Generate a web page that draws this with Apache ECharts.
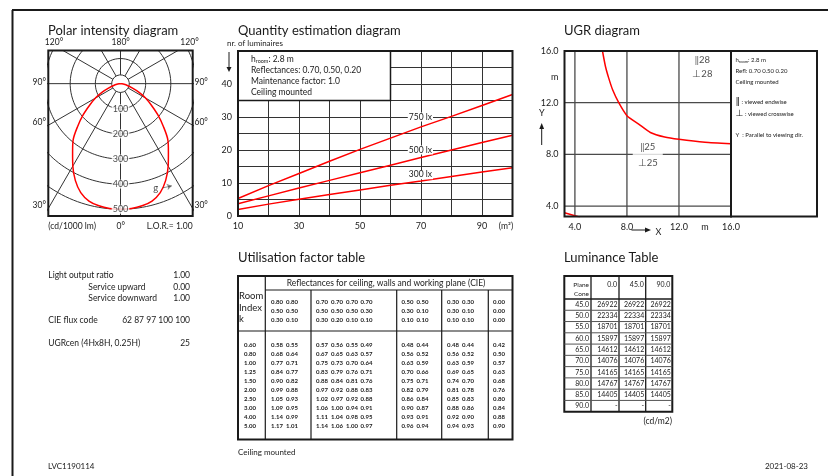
<!DOCTYPE html>
<html>
<head>
<meta charset="utf-8">
<script src="https://cdn.jsdelivr.net/npm/echarts@6/dist/echarts.min.js"></script>
<style>
html, body { margin: 0; padding: 0; background: #fff; }
#chart { width: 835px; height: 476px; }
</style>
</head>
<body>
<div id="chart"></div>
<script>
// ---- polar intensity diagram (cd/1000 lm), gamma 0 = straight down, symmetric
var polarAngles = [0, 5, 10, 15, 20, 25, 30, 35, 40, 45, 50, 55, 60, 65, 70, 75, 80, 85, 90];
var polarIntensity = [500, 499, 494, 484, 462, 425, 379, 332, 293, 241, 194, 150, 116, 80, 47, 28, 15, 6, 0];
var polarRings = [35, 100, 200, 300, 400, 500];
var polarRingLabels = [100, 200, 300, 400, 500];
var polarRays = [0, 30, 60, 90, 120, 150, 180, 210, 240, 270, 300, 330];

// ---- quantity estimation diagram
var areas = [10, 20, 30, 40, 50, 60, 70, 80, 90, 100];
var lux750 = [5.3, 9.2, 12.9, 16.6, 20.2, 23.6, 27.0, 30.2, 33.5, 36.8];
var lux500 = [3.7, 6.1, 8.5, 10.8, 13.1, 15.4, 17.7, 20.0, 22.3, 24.5];
var lux300 = [2.0, 3.6, 5.1, 6.5, 7.9, 9.3, 10.6, 12.0, 13.3, 14.6];

// ---- UGR diagram
var ugrX = [6.12, 6.35, 6.6, 6.9, 7.37, 8.0, 8.9, 9.8, 10.9, 12.0, 14.0, 16.0];
var ugrY = [16.0, 14.8, 13.9, 13.0, 12.0, 11.0, 10.35, 9.7, 9.35, 9.17, 8.94, 8.82];
var ugrLowX = [3.2, 4.4];
var ugrLowY = [3.49, 3.14];
var ugrTicks = [4, 8, 12];

// ---- utilisation factor table
var reflCeiling = ['0.80', '0.80', '0.70', '0.70', '0.70', '0.70', '0.50', '0.50', '0.30', '0.30', '0.00'];
var reflWalls   = ['0.50', '0.50', '0.50', '0.50', '0.50', '0.30', '0.30', '0.10', '0.30', '0.10', '0.00'];
var reflPlane   = ['0.30', '0.10', '0.30', '0.20', '0.10', '0.10', '0.10', '0.10', '0.10', '0.10', '0.00'];
var roomIndex = ['0.60', '0.80', '1.00', '1.25', '1.50', '2.00', '2.50', '3.00', '4.00', '5.00'];
var ufRows = [
  ['0.58', '0.55', '0.57', '0.56', '0.55', '0.49', '0.48', '0.44', '0.48', '0.44', '0.42'],
  ['0.68', '0.64', '0.67', '0.65', '0.63', '0.57', '0.56', '0.52', '0.56', '0.52', '0.50'],
  ['0.77', '0.71', '0.75', '0.73', '0.70', '0.64', '0.63', '0.59', '0.63', '0.59', '0.57'],
  ['0.84', '0.77', '0.83', '0.79', '0.76', '0.71', '0.70', '0.66', '0.69', '0.65', '0.63'],
  ['0.90', '0.82', '0.88', '0.84', '0.81', '0.76', '0.75', '0.71', '0.74', '0.70', '0.68'],
  ['0.99', '0.88', '0.97', '0.92', '0.88', '0.83', '0.82', '0.79', '0.81', '0.78', '0.76'],
  ['1.05', '0.93', '1.02', '0.97', '0.92', '0.88', '0.86', '0.84', '0.85', '0.83', '0.80'],
  ['1.09', '0.95', '1.06', '1.00', '0.94', '0.91', '0.90', '0.87', '0.88', '0.86', '0.84'],
  ['1.14', '0.99', '1.11', '1.04', '0.98', '0.95', '0.93', '0.91', '0.92', '0.90', '0.88'],
  ['1.17', '1.01', '1.14', '1.06', '1.00', '0.97', '0.96', '0.94', '0.94', '0.93', '0.90']
];

// ---- luminance table (cd/m2)
var lumPlanes = ['0.0', '45.0', '90.0'];
var lumCones = ['45.0', '50.0', '55.0', '60.0', '65.0', '70.0', '75.0', '80.0', '85.0', '90.0'];
var lumValues = ['26922', '22334', '18701', '15897', '14612', '14076', '14165', '14767', '14405', '-'];

var ink = '#1a1a1a';
var red = '#ff0000';
var font = 'Lato';

function T(x, y, s, size, align, more) {
  var st = { text: s, fill: ink, fontSize: size, fontFamily: font, align: align || 'left', verticalAlign: 'middle' };
  if (more) for (var k in more) st[k] = more[k];
  return { type: 'text', x: x, y: y, z: 100, silent: true, style: st };
}
function L(x1, y1, x2, y2, w, c) {
  return { type: 'line', z: 90, silent: true, shape: { x1: x1, y1: y1, x2: x2, y2: y2 }, style: { stroke: c || ink, lineWidth: w || 1 } };
}
function R(x, y, w, h, lw) {
  return { type: 'rect', z: 90, silent: true, shape: { x: x, y: y, width: w, height: h }, style: { fill: 'none', stroke: ink, lineWidth: lw || 1 } };
}
function P(pts) {
  return { type: 'polygon', z: 90, silent: true, shape: { points: pts }, style: { fill: ink } };
}

function polarPt(r, deg) {
  var a = deg * Math.PI / 180;
  return [r * Math.sin(a), -r * Math.cos(a)];
}

var g = [];
// page frame
g.push(L(12, 10, 828, 10, 2));
g.push(L(12.5, 10, 12.5, 476, 2));

// titles
g.push(T(48, 31, 'Polar intensity diagram', 13));
g.push(T(238, 31, 'Quantity estimation diagram', 13));
g.push(T(564, 31, 'UGR diagram', 13));
g.push(T(238, 258, 'Utilisation factor table', 13));
g.push(T(564, 258, 'Luminance Table', 13));

// polar labels
g.push(T(54, 42.5, '120°', 8.5, 'center'));
g.push(T(120.7, 42.5, '180°', 8.5, 'center'));
g.push(T(189.5, 42.5, '120°', 8.5, 'center'));
[['90°', 82.7], ['60°', 122.7], ['30°', 205]].forEach(function (p) {
  g.push(T(46, p[1], p[0], 8.5, 'right'));
  g.push(T(194.5, p[1], p[0], 8.5, 'left'));
});
g.push(T(48.3, 226, '(cd/1000 lm)', 8.5));
g.push(T(120.7, 226, '0°', 8.5, 'center'));
g.push(T(192.7, 226, 'L.O.R.= 1.00', 8.5, 'right'));

// quantity annotations
g.push(T(227, 43, 'nr. of luminaires', 8));
g.push(L(229, 52, 229, 68, 1));
g.push(P([[226.5, 67], [231.5, 67], [229, 72]]));
g.push(T(506, 226, '(m²)', 8.5, 'center'));
g.push(T(251, 59, 'h{s|room}: 2.8 m', 8.5, 'left', { rich: { s: { fontSize: 5.5, fontFamily: font, fill: ink, padding: [4, 0, 0, 0] } } }));
g.push(T(251, 70.5, 'Reflectances: 0.70, 0.50, 0.20', 8.5));
g.push(T(251, 81.5, 'Maintenance factor: 1.0', 8.5));
g.push(T(251, 92.7, 'Ceiling mounted', 8.5));

// UGR annotations
g.push(R(731, 51, 86, 165.5, 2));
g.push(T(735.5, 60, 'h{s|room}: 2.8 m', 6, 'left', { rich: { s: { fontSize: 4, fontFamily: font, fill: ink, padding: [3, 0, 0, 0] } } }));
g.push(T(735.5, 71, 'Refl: 0.70 0.50 0.20', 6));
g.push(T(735.5, 82, 'Ceiling mounted', 6));
g.push(T(735.5, 102, '{b|‖} : viewed endwise', 6, 'left', { rich: { b: { fontSize: 9, fontFamily: 'DejaVu Sans', fill: ink } } }));
g.push(T(735.5, 114, '{b|⊥} : viewed crosswise', 6, 'left', { rich: { b: { fontSize: 9, fontFamily: 'DejaVu Sans', fill: ink } } }));
g.push(T(735.5, 135, 'Y  : Parallel to viewing dir.', 6));
g.push(T(541.7, 113, 'Y', 9, 'center'));
g.push(L(541.7, 145, 541.7, 128, 1));
g.push(P([[539.3, 129], [544.1, 129], [541.7, 123]]));
g.push(L(631.5, 230, 646, 230, 1));
g.push(P([[645, 227.6], [645, 232.4], [651, 230]]));
g.push(T(658.5, 232, 'X', 9, 'center'));

// left info block
g.push(T(48.3, 275.7, 'Light output ratio', 8.5));
g.push(T(190, 275.7, '1.00', 8.5, 'right'));
g.push(T(88.3, 287.3, 'Service upward', 8.5));
g.push(T(190, 287.3, '0.00', 8.5, 'right'));
g.push(T(88.3, 298.5, 'Service downward', 8.5));
g.push(T(190, 298.5, '1.00', 8.5, 'right'));
g.push(T(48.3, 320.7, 'CIE flux code', 8.5));
g.push(T(190, 320.7, '62 87 97 100 100', 8.5, 'right'));
g.push(T(48.3, 343.3, 'UGRcen (4Hx8H, 0.25H)', 8.5));
g.push(T(190, 343.3, '25', 8.5, 'right'));

// utilisation factor table
var ufLeft = 238, ufRight = 512.5, ufTop = 276, ufBottom = 439.5;
var ufColX = [277, 292, 322, 337, 352, 366.5, 407.5, 422.5, 453, 468, 499];
var ufGroupX = [311, 396.7, 441.7, 488.3];
var num = { fontWeight: 'bold', fill: '#222' };
g.push(R(ufLeft, ufTop, ufRight - ufLeft, ufBottom - ufTop, 2));
g.push(L(265.3, ufTop, 265.3, ufBottom, 1.2));
g.push(L(265.3, 290, ufRight, 290, 1));
g.push(L(ufLeft, 331, ufRight, 331, 1.2));
ufGroupX.forEach(function (x) { g.push(L(x, 290, x, ufBottom, 1.2)); });
g.push(T(386, 283.5, 'Reflectances for ceiling, walls and working plane (CIE)', 8.5, 'center'));
g.push(T(239, 296, 'Room', 9.5));
g.push(T(239, 307.7, 'Index', 9.5));
g.push(T(239, 319.3, 'k', 9.5));
[reflCeiling, reflWalls, reflPlane].forEach(function (row, r) {
  row.forEach(function (v, c) { g.push(T(ufColX[c], 301.7 + r * 9.2, v, 6, 'center', num)); });
});
roomIndex.forEach(function (k, r) {
  var y = 345 + r * 9;
  g.push(T(250, y, k, 6, 'center', num));
  ufRows[r].forEach(function (v, c) { g.push(T(ufColX[c], y, v, 6, 'center', num)); });
});
g.push(T(238, 452, 'Ceiling mounted', 8));

// luminance table
var lumLeft = 564.3, lumRight = 672.3, lumTop = 276, lumHead = 299, lumRow = 11.27;
var lumColX = [591, 619, 645.7];
var lumBottom = lumHead + lumRow * lumCones.length;
g.push(R(lumLeft, lumTop, lumRight - lumLeft, lumBottom - lumTop, 2));
lumColX.forEach(function (x) { g.push(L(x, lumTop, x, lumBottom, 1.3)); });
g.push(L(lumLeft, lumHead, lumRight, lumHead, 1.3));
for (var i = 1; i < lumCones.length; i++) g.push(L(lumLeft, lumHead + i * lumRow, lumRight, lumHead + i * lumRow, 1, '#555'));
g.push(T(589, 285, 'Plane', 6.5, 'right'));
g.push(T(589, 294, 'Cone', 6.5, 'right'));
lumPlanes.forEach(function (p, c) { g.push(T((lumColX[c + 1] || lumRight) - 2, 285, p, 7, 'right')); });
lumCones.forEach(function (cn, r) {
  var y = lumHead + (r + 0.5) * lumRow;
  g.push(T(589, y, cn, 7, 'right'));
  for (var c = 0; c < 3; c++) g.push(T((lumColX[c + 1] || lumRight) - 1.5, y, lumValues[r], 7, 'right'));
});
g.push(T(672, 421.5, '(cd/m2)', 8.5, 'right'));

// footer
g.push(T(48, 466, 'LVC1190114', 8));
g.push(T(808, 466, '2021-08-23', 8, 'right'));

// ---------- series ----------
var series = [];
polarRings.forEach(function (r) {
  var d = [];
  for (var a = 0; a <= 360; a += 2) d.push(polarPt(r, a));
  series.push({ type: 'line', xAxisIndex: 0, yAxisIndex: 0, data: d, showSymbol: false, silent: true, z: 1,
    lineStyle: { color: '#333', width: 1 } });
});
polarRays.forEach(function (a) {
  series.push({ type: 'line', xAxisIndex: 0, yAxisIndex: 0, data: [polarPt(35, a), polarPt(900, a)], showSymbol: false, silent: true, z: 1,
    lineStyle: { color: '#333', width: 1 } });
});
var curve = [];
for (var j = polarAngles.length - 1; j >= 0; j--) curve.push(polarPt(polarIntensity[j], -polarAngles[j]));
for (var j2 = 1; j2 < polarAngles.length; j2++) curve.push(polarPt(polarIntensity[j2], polarAngles[j2]));
series.push({ type: 'line', xAxisIndex: 0, yAxisIndex: 0, data: curve, showSymbol: false, smooth: 0.3, silent: true, z: 3,
  lineStyle: { color: red, width: 1.5 } });
series.push({ type: 'scatter', xAxisIndex: 0, yAxisIndex: 0, symbolSize: 1, silent: true, z: 4,
  itemStyle: { color: 'transparent' },
  data: polarRingLabels.map(function (v) { return [0, -v]; }),
  label: { show: true, position: 'inside', formatter: function (p) { return -p.value[1]; },
    color: ink, fontSize: 9, fontFamily: font, backgroundColor: '#fff', padding: [0, 1] } });
series.push({ type: 'scatter', xAxisIndex: 0, yAxisIndex: 0, symbolSize: 1, silent: true, z: 4,
  itemStyle: { color: 'transparent' }, data: [[140, -415]],
  label: { show: true, position: 'inside', formatter: 'g', color: ink, fontSize: 9.5, fontFamily: font } });
series.push({ type: 'lines', coordinateSystem: 'cartesian2d', xAxisIndex: 0, yAxisIndex: 0, silent: true, z: 4,
  symbol: ['none', 'arrow'], symbolSize: 5,
  lineStyle: { color: ink, width: 1 }, data: [{ coords: [[168, -415], [204, -407]] }] });

function zip(xs, ys) { return xs.map(function (x, i) { return [x, ys[i]]; }); }
function luxSeries(vals, name, yLab) {
  return { type: 'line', name: name, xAxisIndex: 1, yAxisIndex: 1, data: zip(areas, vals), showSymbol: false, silent: true, z: 3,
    lineStyle: { color: red, width: 1.5 },
    markPoint: { symbol: 'rect', symbolSize: 1, silent: true, itemStyle: { color: 'transparent' },
      label: { show: true, position: 'right', distance: 0, formatter: name, color: ink, fontSize: 8.5, fontFamily: font,
        backgroundColor: '#fff', padding: [0, 1] },
      data: [{ coord: [65.5, yLab] }] } };
}
var s750 = luxSeries(lux750, '750 lx', 30);
s750.markArea = { silent: true, itemStyle: { color: '#fff', borderColor: ink, borderWidth: 1.5 },
  data: [[{ coord: [10, 35] }, { coord: [60, 50] }]] };
series.push(s750, luxSeries(lux500, '500 lx', 20), luxSeries(lux300, '300 lx', 12.5));

ugrTicks.forEach(function (t) {
  series.push({ type: 'line', xAxisIndex: 2, yAxisIndex: 2, data: [[t, 3.2], [t, 16]], showSymbol: false, silent: true, z: 1,
    lineStyle: { color: '#4a4a4a', width: 1.3 } });
  series.push({ type: 'line', xAxisIndex: 2, yAxisIndex: 2, data: [[3.2, t], [16, t]], showSymbol: false, silent: true, z: 1,
    lineStyle: { color: '#4a4a4a', width: 1.3 } });
});
series.push({ type: 'line', xAxisIndex: 2, yAxisIndex: 2, data: zip(ugrX, ugrY), showSymbol: false, smooth: 0.2, silent: true, z: 3,
  lineStyle: { color: red, width: 1.5 } });
series.push({ type: 'line', xAxisIndex: 2, yAxisIndex: 2, data: zip(ugrLowX, ugrLowY), showSymbol: false, silent: true, z: 3,
  lineStyle: { color: red, width: 1.5 } });
series.push({ type: 'scatter', xAxisIndex: 2, yAxisIndex: 2, symbolSize: 1, silent: true, z: 4,
  itemStyle: { color: 'transparent' },
  data: [[13.8, 15.3, '‖28'], [13.8, 14.2, '⊥28'], [9.6, 8.0, '‖25\n⊥25']],
  label: { show: true, position: 'inside', formatter: function (p) { return p.value[2]; },
    color: ink, fontSize: 9.5, fontFamily: font, lineHeight: 16, backgroundColor: '#fff', padding: [0, 5] } });

function near(v, t) { return Math.abs(v - t) < 1e-6; }
function ugrLabel(v) {
  if (near(v, 4) || near(v, 8) || near(v, 12) || near(v, 16)) return v.toFixed(1);
  if (near(v, 14)) return 'm';
  return '';
}
var lab = { color: ink, fontSize: 9, fontFamily: font };

var option = {
  backgroundColor: '#fff',
  animation: false,
  textStyle: { fontFamily: font },
  grid: [
    { left: 48.3, top: 50.5, width: 144.4, height: 165.5, show: true, borderColor: ink, borderWidth: 2, z: 5 },
    { left: 238, top: 51, width: 274.5, height: 165, show: true, borderColor: ink, borderWidth: 2, z: 5 },
    { left: 564.5, top: 51, width: 166.5, height: 165.5, show: true, borderColor: ink, borderWidth: 2, z: 5 }
  ],
  xAxis: [
    { gridIndex: 0, type: 'value', min: -287, max: 287, show: false },
    { gridIndex: 1, type: 'value', min: 10, max: 100, interval: 10,
      axisLine: { show: false }, axisTick: { show: false },
      axisLabel: Object.assign({ margin: 6, formatter: function (v) { return (v < 100 && (v - 10) % 20 === 0) ? String(v) : ''; } }, lab),
      splitLine: { lineStyle: { color: '#333', width: 1 } } },
    { gridIndex: 2, type: 'value', min: 3.2, max: 16, interval: 0.4,
      axisLine: { show: false }, axisTick: { show: false },
      axisLabel: Object.assign({ margin: 6, formatter: ugrLabel }, lab), splitLine: { show: false } }
  ],
  yAxis: [
    { gridIndex: 0, type: 'value', min: -527, max: 132, show: false },
    { gridIndex: 1, type: 'value', min: 0, max: 50, interval: 5,
      axisLine: { show: false }, axisTick: { show: false },
      axisLabel: Object.assign({ margin: 6, formatter: function (v) { return (v % 10 === 0 && v < 50) ? String(v) : ''; } }, lab),
      splitLine: { lineStyle: { color: '#333', width: 1 } } },
    { gridIndex: 2, type: 'value', min: 3.2, max: 16, interval: 0.4,
      axisLine: { show: false }, axisTick: { show: false },
      axisLabel: Object.assign({ margin: 6, formatter: ugrLabel }, lab), splitLine: { show: false } }
  ],
  series: series,
  graphic: { elements: g }
};

var chart = echarts.init(document.getElementById('chart'));
chart.setOption(option);
</script>
</body>
</html>
